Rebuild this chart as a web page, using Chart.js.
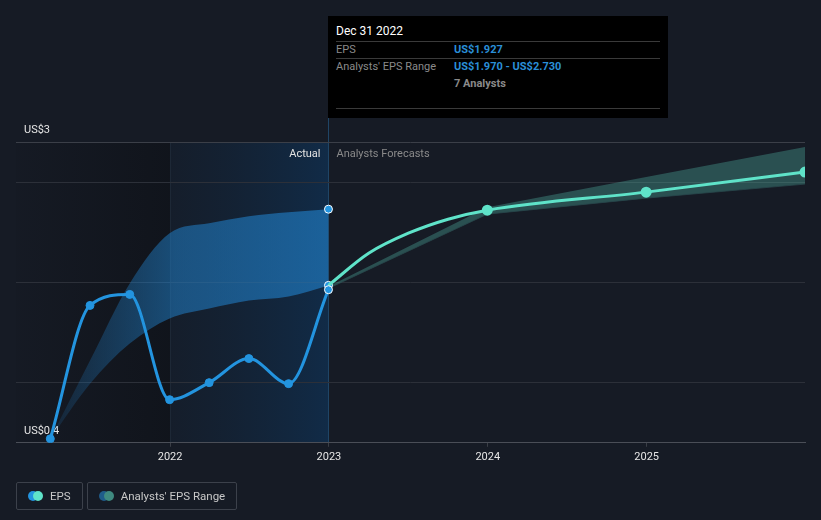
<!DOCTYPE html>
<html lang="en">
<head>
  <meta charset="UTF-8" />
  <title>EPS vs Analysts' Forecasts</title>
  <script src="https://cdn.jsdelivr.net/npm/chart.js"></script>
  <style>
    body {
      margin: 0;
      background: #161b25;
      font-family: Roboto, 'Noto Sans', sans-serif;
    }
    .wrap {
      position: relative;
      width: 821px;
      height: 520px;
    }
    canvas { position: absolute; left: 0; top: 0; }
    .tip {
      position: absolute;
      left: 328px;
      top: 16px;
      width: 340px;
      height: 102px;
      background: #000;
      font-size: 11px;
      box-sizing: border-box;
      padding: 7px 8px 0 8px;
    }
    .tip .head { color: #fff; font-size: 12px; height: 18px; line-height: 16px; border-bottom: 1px solid #3a3a3a; }
    .tip .row { display: flex; height: 17px; line-height: 16px; box-sizing: border-box; }
    .tip .row.sep { border-bottom: 1px solid #3a3a3a; }
    .tip .lbl { width: 118px; color: #8a8a8a; }
    .tip .val { color: #2a8fd8; font-weight: bold; }
    .tip .cnt { color: #8a8a8a; font-weight: bold; }
    .tip .end { position: absolute; left: 8px; right: 8px; top: 92px; border-top: 1px solid #3a3a3a; }
    .legend {
      position: absolute;
      left: 16px;
      top: 482px;
      display: flex;
      gap: 4px;
    }
    .legend .item {
      border: 1px solid #3c414b;
      border-radius: 2px;
      height: 26px;
      display: flex;
      align-items: center;
      padding: 0 11px 0 11px;
      color: #c8c8c8;
      font-size: 11.5px;
    }
    .dots { position: relative; width: 14px; height: 10px; margin-right: 8px; }
    .dots span { position: absolute; top: 0; width: 10px; height: 10px; border-radius: 50%; }
  </style>
</head>
<body>
  <div class="wrap">
    <canvas id="epsChart" width="821" height="520"></canvas>

    <div class="tip">
      <div class="head">Dec 31 2022</div>
      <div class="row sep"><div class="lbl">EPS</div><div class="val">US$1.927</div></div>
      <div class="row"><div class="lbl">Analysts' EPS Range</div><div class="val">US$1.970 - US$2.730</div></div>
      <div class="row"><div class="lbl"></div><div class="cnt">7 Analysts</div></div>
      <div class="end"></div>
    </div>

    <div class="legend">
      <div class="item">
        <div class="dots"><span style="left:0;background:#2394df"></span><span style="left:5px;background:#5fe3c9"></span></div>EPS
      </div>
      <div class="item">
        <div class="dots"><span style="left:0;background:#1f5c8a"></span><span style="left:5px;background:#3f8a80"></span></div>Analysts' EPS Range
      </div>
    </div>
  </div>

  <script>
    // reported EPS (trailing), quarter ends as decimal years
    const histDates = [2021.246, 2021.496, 2021.746, 2021.997, 2022.246, 2022.496, 2022.746, 2022.997];
    const histEps   = [0.44, 1.77, 1.88, 0.83, 1.00, 1.24, 0.99, 1.927];
    const histLow   = [0.44, 0.99, 1.39, 1.64, 1.74, 1.82, 1.86, 1.97];
    const histHigh  = [0.44, 1.22, 1.99, 2.49, 2.59, 2.66, 2.70, 2.73];

    // analysts' forecast
    const fcDates = [2022.997, 2023.25, 2023.5, 2023.75, 2023.997, 2024.997, 2025.997];
    const fcEps   = [1.97, 2.29, 2.49, 2.63, 2.72, 2.90, 3.10];
    const fcMarks = [false, false, false, false, true, true, true];
    const rangeDates = [2022.997, 2023.997, 2024.997, 2025.997];
    const rangeLow   = [1.94, 2.68, 2.84, 2.98];
    const rangeHigh  = [1.96, 2.75, 3.05, 3.35];

    const yearTicks = [2022, 2023, 2024, 2025];
    const yTicks = [0.4, 1, 2, 3, 3.4];
    const yLabels = { 0.4: 'US$0.4', 3.4: 'US$3' };

    const actualStart = 2022;
    const actualEnd = 2022.997;

    const pts = (xs, ys) => xs.map((x, i) => ({ x: x, y: ys[i] }));
    const BLUE = '#2394df';
    const TEAL = '#5fe3c9';

    const shade = {
      id: 'shade',
      beforeDraw(chart) {
        const { ctx, chartArea: a, scales: { x } } = chart;
        const x0 = x.getPixelForValue(actualStart);
        const x1 = x.getPixelForValue(actualEnd);
        ctx.save();
        ctx.fillStyle = '#161b25';
        ctx.fillRect(0, 0, chart.width, chart.height);

        let g = ctx.createLinearGradient(a.left, 0, x0, 0);
        g.addColorStop(0, 'rgba(8,10,14,0.05)');
        g.addColorStop(1, 'rgba(8,10,14,0.4)');
        ctx.fillStyle = g;
        ctx.fillRect(a.left, a.top, x0 - a.left, a.bottom - a.top);

        g = ctx.createLinearGradient(x0, 0, x1, 0);
        g.addColorStop(0, 'rgba(16,40,66,0.2)');
        g.addColorStop(1, 'rgba(14,52,90,0.65)');
        ctx.fillStyle = g;
        ctx.fillRect(x0, a.top, x1 - x0, a.bottom - a.top);

        ctx.strokeStyle = '#1d2836';
        ctx.lineWidth = 1;
        ctx.beginPath();
        ctx.moveTo(Math.round(x0) + 0.5, a.top);
        ctx.lineTo(Math.round(x0) + 0.5, a.bottom);
        ctx.stroke();

        ctx.strokeStyle = '#1f4566';
        ctx.beginPath();
        ctx.moveTo(Math.round(x1) + 0.5, 118);
        ctx.lineTo(Math.round(x1) + 0.5, a.bottom);
        ctx.stroke();

        ctx.font = '11px Roboto';
        ctx.textBaseline = 'middle';
        ctx.textAlign = 'right';
        ctx.fillStyle = '#e2e2e2';
        ctx.fillText('Actual', x1 - 8, a.top + 12);
        ctx.textAlign = 'left';
        ctx.fillStyle = '#8a8a8a';
        ctx.fillText('Analysts Forecasts', x1 + 8, a.top + 12);
        ctx.restore();
      }
    };

    const bandFill = (ctx) => {
      const chart = ctx.chart;
      if (!chart.chartArea) return 'rgba(33,130,205,0.5)';
      const x = chart.scales.x;
      const g = chart.ctx.createLinearGradient(x.getPixelForValue(histDates[0]), 0, x.getPixelForValue(actualEnd), 0);
      g.addColorStop(0, 'rgba(33,130,205,0.12)');
      g.addColorStop(0.45, 'rgba(33,130,205,0.52)');
      g.addColorStop(1, 'rgba(33,130,205,0.62)');
      return g;
    };

    const lastOnly = (n, on, off) => Array.from({ length: n }, (_, i) => i === n - 1 ? on : off);

    new Chart(document.getElementById('epsChart'), {
      type: 'line',
      data: {
        datasets: [
          {
            label: 'range low',
            data: pts(histDates, histLow),
            borderWidth: 0,
            borderColor: 'transparent',
            cubicInterpolationMode: 'monotone',
            pointRadius: lastOnly(histDates.length, 4, 0),
            pointBackgroundColor: BLUE,
            pointBorderColor: '#fff',
            pointBorderWidth: 1,
            fill: false,
            order: 3
          },
          {
            label: 'range high',
            data: pts(histDates, histHigh),
            borderWidth: 0,
            borderColor: 'transparent',
            cubicInterpolationMode: 'monotone',
            pointRadius: lastOnly(histDates.length, 4, 0),
            pointBackgroundColor: BLUE,
            pointBorderColor: '#fff',
            pointBorderWidth: 1,
            backgroundColor: bandFill,
            fill: 0,
            order: 4
          },
          {
            label: 'forecast low',
            data: pts(rangeDates, rangeLow),
            borderWidth: 1,
            borderColor: 'rgba(40,70,75,0.8)',
            tension: 0,
            pointRadius: 0,
            fill: false,
            order: 5
          },
          {
            label: 'forecast high',
            data: pts(rangeDates, rangeHigh),
            borderWidth: 0,
            borderColor: 'transparent',
            tension: 0,
            pointRadius: 0,
            backgroundColor: 'rgba(88,205,185,0.3)',
            fill: 2,
            order: 6
          },
          {
            label: 'EPS',
            data: pts(histDates, histEps),
            borderColor: BLUE,
            borderWidth: 3,
            cubicInterpolationMode: 'monotone',
            pointRadius: 4,
            pointBackgroundColor: BLUE,
            pointBorderColor: lastOnly(histDates.length, '#fff', BLUE),
            pointBorderWidth: 1,
            fill: false,
            order: 1
          },
          {
            label: 'EPS forecast',
            data: pts(fcDates, fcEps),
            borderColor: TEAL,
            borderWidth: 3,
            cubicInterpolationMode: 'monotone',
            pointRadius: fcMarks.map(m => m ? 4 : 0),
            pointBackgroundColor: TEAL,
            pointBorderColor: TEAL,
            fill: false,
            order: 2
          }
        ]
      },
      options: {
        responsive: false,
        animation: false,
        events: [],
        layout: { padding: { left: 0, right: 16, top: 142, bottom: 52 } },
        plugins: {
          legend: { display: false },
          tooltip: { enabled: false }
        },
        scales: {
          x: {
            type: 'linear',
            min: 2021.03,
            max: 2025.997,
            afterBuildTicks: (s) => { s.ticks = yearTicks.map(v => ({ value: v })); },
            ticks: {
              color: '#e6e6e6',
              font: { family: 'Roboto', size: 11 },
              padding: 4,
              callback: (v) => String(v)
            },
            grid: { drawOnChartArea: false, drawTicks: true, tickLength: 4, color: '#3a3e46' },
            border: { color: '#4a4e57' }
          },
          y: {
            min: 0.4,
            max: 3.4,
            afterBuildTicks: (s) => { s.ticks = yTicks.map(v => ({ value: v })); },
            ticks: {
              mirror: true,
              padding: 8,
              labelOffset: -12,
              color: '#e6e6e6',
              font: { family: 'Roboto', size: 11 },
              callback: (v) => yLabels[v] || ''
            },
            grid: {
              drawTicks: false,
              color: (c) => c.tick.value === 3.4 ? '#3b3f48' : (c.tick.value === 0.4 ? 'transparent' : '#2c3039')
            },
            border: { display: false }
          }
        }
      },
      plugins: [shade]
    });
  </script>
</body>
</html>
